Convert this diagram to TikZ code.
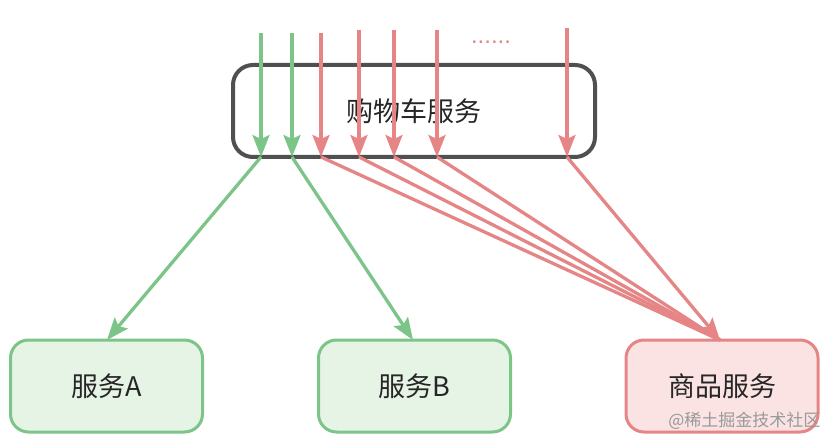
\documentclass[tikz,border=0pt]{standalone}
\usepackage{fontspec}
\setmainfont{Noto Sans CJK SC}
\newfontfamily\latinfont{Liberation Sans}
\usetikzlibrary{arrows.meta}
\definecolor{gstroke}{HTML}{7CC487}
\definecolor{gfill}{HTML}{E6F4E6}
\definecolor{rstroke}{HTML}{E58585}
\definecolor{rfill}{HTML}{FBE3E3}
\definecolor{dstroke}{HTML}{505050}
\tikzset{
  mainbox/.style={draw=dstroke, line width=4pt, rounded corners=20pt, minimum width=362pt, minimum height=92pt, font=\fontsize{27pt}{30pt}\selectfont, text=black!85},
  gbox/.style={draw=gstroke, fill=gfill, line width=3pt, rounded corners=18pt, minimum width=192pt, minimum height=92pt, font=\fontsize{27pt}{30pt}\selectfont, text=black!85},
  rbox/.style={draw=rstroke, fill=rfill, line width=3pt, rounded corners=18pt, minimum width=192pt, minimum height=92pt, font=\fontsize{27pt}{30pt}\selectfont, text=black!85},
  garrow/.style={draw=gstroke, line width=3.3pt, -{Stealth[length=22pt, width=17pt, inset=4pt]}},
  rarrow/.style={draw=rstroke, line width=3.3pt, -{Stealth[length=22pt, width=17pt, inset=4pt]}},
  rline/.style={draw=rstroke, line width=3.3pt},
}
\begin{document}
\begin{tikzpicture}[x=1pt, y=-1pt]
\useasboundingbox (0,0) rectangle (832,438);
% bottom service boxes
\node[gbox] (A) at (106.5,386) {服务A};
\node[gbox] (B) at (414.5,386) {服务B};
\node[rbox] (C) at (722,386) {商品服务};
% main box
\node[mainbox] (M) at (414,111) {购物车服务};
% top starts
\coordinate (g1t) at (261,33);
\coordinate (g2t) at (292,33);
\coordinate (r1t) at (321,33);
\coordinate (r2t) at (359,30);
\coordinate (r3t) at (394,30);
\coordinate (r4t) at (437,30);
\coordinate (r5t) at (567,28);
% points on box bottom
\coordinate (g1b) at (261,157);
\coordinate (g2b) at (292,157);
\coordinate (r1b) at (321,157);
\coordinate (r2b) at (359,157);
\coordinate (r3b) at (394,157);
\coordinate (r4b) at (437,157);
\coordinate (r5b) at (567,157);
% targets
\coordinate (Atop) at (107,340);
\coordinate (Btop) at (413,340);
\coordinate (Ctop) at (720,340);
% outgoing edges
\draw[garrow] (g1b) -- (Atop);
\draw[garrow] (g2b) -- (Btop);
\draw[rline] (r1b) -- (Ctop);
\draw[rline] (r2b) -- (Ctop);
\draw[rline] (r3b) -- (Ctop);
\draw[rline] (r4b) -- (Ctop);
\draw[rarrow] (r5b) -- (Ctop);
% incoming arrows
\draw[garrow] (g1t) -- (g1b);
\draw[garrow] (g2t) -- (g2b);
\draw[rarrow] (r1t) -- (r1b);
\draw[rarrow] (r2t) -- (r2b);
\draw[rarrow] (r3t) -- (r3b);
\draw[rarrow] (r4t) -- (r4b);
\draw[rarrow] (r5t) -- (r5b);
% dots
\node[text=rstroke, font=\latinfont\fontsize{24pt}{26pt}\selectfont] (dots) at (491,42) {......};
% watermark
\node[anchor=east, text=black!40, font=\fontsize{17pt}{19pt}\selectfont] (wm) at (824,421) {@稀土掘金技术社区};
\end{tikzpicture}
\end{document}
